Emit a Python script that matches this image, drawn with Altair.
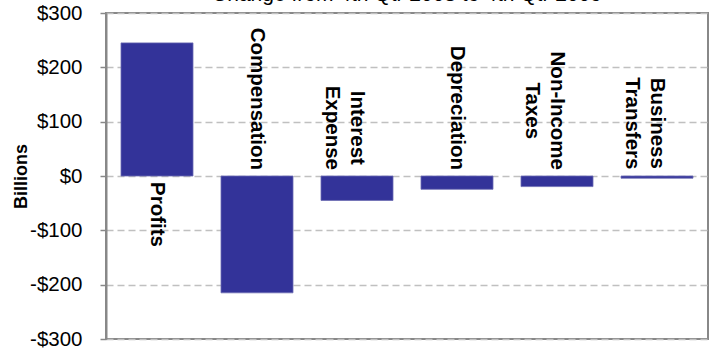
import altair as alt
import pandas as pd

# ---- data ----
categories = ["Profits", "Compensation", "Interest Expense", "Depreciation",
              "Non-Income Taxes", "Business Transfers"]
values = [245, -215, -45, -24.5, -19.5, -4]
label_lines = [["Profits"], ["Compensation"], ["Interest", "Expense"], ["Depreciation"],
               ["Non-Income", "Taxes"], ["Business", "Transfers"]]
y_ticks = [-300, -200, -100, 0, 100, 200, 300]
title_text = "Change from 4th Qtr 2008 to 4th Qtr 2009"

# ---- layout / style ----
FONT = "Liberation Sans"
LABEL_SIZE = 20.5
GAP = 6
PLOT_W, PLOT_H = 602, 326

# Arial/Liberation Sans Bold advance widths (per 1000 em)
BOLD_W = {" ": 278, "-": 333, "A": 722, "B": 722, "C": 722, "D": 722, "E": 667, "I": 278,
          "N": 722, "P": 667, "T": 611, "a": 556, "b": 611, "c": 556, "d": 611, "e": 556,
          "f": 333, "i": 278, "l": 278, "m": 889, "n": 611, "o": 611, "p": 611, "r": 389,
          "s": 556, "t": 333, "u": 611, "x": 556, "y": 556}


def text_width(s, size):
    return sum(BOLD_W.get(ch, 600) for ch in s) / 1000.0 * size


df = pd.DataFrame({
    "cat": categories,
    "value": values,
    "label": ["\n".join(l) for l in label_lines],
})

x_enc = alt.X("cat:N", sort=categories,
              scale=alt.Scale(paddingInner=0.28, paddingOuter=0.15), axis=None)

bars = alt.Chart(df).mark_bar(color="#333399", stroke="#6b6bb3", strokeWidth=0.8).encode(
    x=x_enc,
    y=alt.Y("value:Q",
            scale=alt.Scale(domain=[-300, 300], nice=False, zero=True),
            axis=alt.Axis(
                values=y_ticks,
                labelExpr="datum.value < 0 ? '-$' + abs(datum.value) : '$' + datum.value",
                labelFont=FONT, labelFontSize=20.5, labelColor="#000000", labelPadding=18,
                domainColor="#888888", domainWidth=2,
                tickColor="#888888", tickWidth=1.5, tickSize=6,
                grid=True, gridColor="#c0c0c0", gridDash=[7, 4], gridWidth=1.5,
                title="Billions", titleFont=FONT, titleFontSize=18, titleFontWeight="bold",
                titleColor="#000000", titleAngle=-90, titleX=-80, titleY=PLOT_H / 2,
                titleAlign="center", titleBaseline="alphabetic",
            )),
)

layers = [bars]
for cat, val, lines in zip(categories, values, label_lines):
    w = max(text_width(l, LABEL_SIZE) for l in lines)
    off = w / 2 + GAP
    dx = off if val >= 0 else -off
    layers.append(
        alt.Chart(df[df["cat"] == cat]).mark_text(
            angle=90, align="center", baseline="middle", dx=dx,
            font=FONT, fontSize=LABEL_SIZE, fontWeight="bold", color="#000000",
            lineBreak="\n", lineHeight=25,
        ).encode(x=x_enc, y=alt.Y(datum=0), text="label:N")
    )

title = alt.Chart(pd.DataFrame({"t": [title_text]})).mark_text(
    align="center", baseline="alphabetic", font=FONT, fontSize=21, color="#000000",
).encode(x=alt.value(PLOT_W / 2), y=alt.value(-12), text="t:N")
layers.append(title)

chart = alt.layer(*layers).properties(
    width=PLOT_W, height=PLOT_H,
    autosize=alt.AutoSizeParams(type="none"),
    padding={"left": 106, "top": 13, "right": 3, "bottom": 11},
    background="#ffffff",
).configure_view(stroke="#888888", strokeWidth=2)

chart.save("out.html", embed_options={"renderer": "svg", "actions": False})
